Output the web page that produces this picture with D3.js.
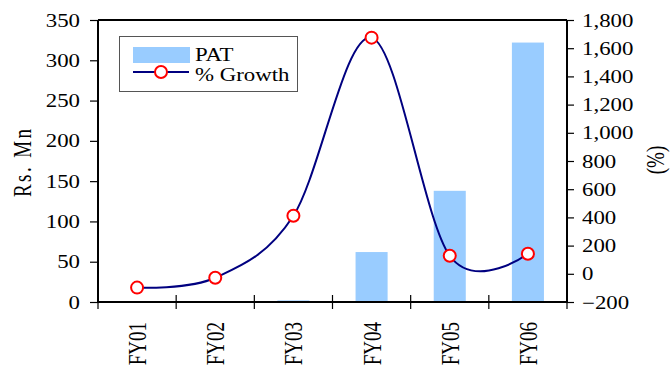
<!DOCTYPE html>
<html><head><meta charset="utf-8">
<script src="https://cdn.jsdelivr.net/npm/d3@7"></script>
<style>body{margin:0;background:#fff}svg{display:block}</style>
</head><body><svg id="c" width="671" height="366"></svg>
<script>
const categories = ["FY01","FY02","FY03","FY04","FY05","FY06"];
const patValues = [0, 0, 2, 62, 138, 322];
const growthValues = [-98, -28, 412, 1675, 128, 142];
const leftTicks = [0,50,100,150,200,250,300,350];
const rightTicks = [-200,0,200,400,600,800,1000,1200,1400,1600,1800];

const FONT = "'Liberation Serif','Times New Roman',serif";
const SX = 1.27; // horizontal stretch of the reference picture
const svg = d3.select("#c");
const L = 98, R = 567, T = 20, B = 302;
const x = d3.scaleBand().domain(categories).range([L, R]);
const yL = d3.scaleLinear().domain([0,350]).range([B, T]);
const yR = d3.scaleLinear().domain([-200,1800]).range([B, T]);
const fmt = d3.format(",");

function label(g, px, py, txt, opts={}) {
  const t = g.append("text")
    .attr("transform", `translate(${px},${py}) scale(${SX},1)` + (opts.rot ? ` rotate(${opts.rot})` : ""))
    .attr("font-family", FONT).attr("font-size", opts.size || 18)
    .attr("text-anchor", opts.anchor || "start").attr("fill", "#000")
    .text(txt);
  if (opts.dy) t.attr("dy", opts.dy);
  if (opts.len) t.attr("textLength", opts.len).attr("lengthAdjust", "spacing");
  return t;
}

// bars
const bw = x.bandwidth()*0.41;
svg.append("g").selectAll("rect").data(categories).join("rect")
  .attr("x", d => x(d) + x.bandwidth()/2 - bw/2)
  .attr("width", bw)
  .attr("y", (d,i) => yL(patValues[i]))
  .attr("height", (d,i) => B - yL(patValues[i]))
  .attr("fill", "#99CCFF");

// frame top
svg.append("line").attr("x1", L).attr("x2", R).attr("y1", T).attr("y2", T).attr("stroke","#000").attr("stroke-width",2);

// left axis
const gl = svg.append("g").attr("transform", `translate(${L},0)`)
  .call(d3.axisLeft(yL).tickValues(leftTicks).tickSize(8).tickFormat(""));
gl.selectAll(".tick").each(function(d){
  label(d3.select(this), -18, 0, String(d), {anchor:"end", dy:"0.34em"});
});
// right axis
const gr = svg.append("g").attr("transform", `translate(${R},0)`)
  .call(d3.axisRight(yR).tickValues(rightTicks).tickSize(7).tickFormat(""));
gr.selectAll(".tick").each(function(d){
  label(d3.select(this), 15, 0, fmt(d), {anchor:"start", dy:"0.34em"});
});
// bottom axis
const gb = svg.append("g").attr("transform", `translate(0,${B})`)
  .call(d3.axisBottom(x).tickValues([]).tickSize(0));
const bounds = x.domain().map(d => x(d)).concat([R]);
gb.selectAll(".bt").data(bounds).join("line").attr("class","bt")
  .attr("x1", d=>d).attr("x2", d=>d).attr("y1", -7).attr("y2", 7).attr("stroke","#000").attr("stroke-width",1.2);
categories.forEach(d => {
  label(gb, x(d)+x.bandwidth()/2+9, 20, d, {anchor:"end", rot:-90, size:19});
});

[gl, gr, gb].forEach(g => {
  g.select(".domain").attr("stroke","#000").attr("stroke-width",2);
  g.selectAll(".tick line").attr("stroke","#000").attr("stroke-width",1.2);
});
gl.selectAll(".tick line").attr("x2", 1).attr("x1", -8);
gr.selectAll(".tick line").attr("x1", -1).attr("x2", 7);
gl.select(".domain").attr("d", `M0,${T}V${B}`);
gr.select(".domain").attr("d", `M0,${T}V${B}`);
gb.select(".domain").attr("d", `M${L},0H${R}`);

// titles
label(svg, 31, 163, "Rs. Mn", {anchor:"middle", rot:-90, size:19, len:68});
label(svg, 664, 160, "(%)", {anchor:"middle", rot:-90, size:19});

// line
const pts = categories.map((d,i) => [x(d)+x.bandwidth()/2, yR(growthValues[i])]);
svg.append("path").attr("d", d3.line().curve(d3.curveCardinal.tension(0))(pts))
  .attr("fill","none").attr("stroke","#000080").attr("stroke-width",2);
svg.append("g").selectAll("circle").data(pts).join("circle")
  .attr("cx", d=>d[0]).attr("cy", d=>d[1]).attr("r", 6)
  .attr("fill","#fff").attr("stroke","#FF0000").attr("stroke-width",2);

// legend
const lg = svg.append("g");
lg.append("rect").attr("x",119.5).attr("y",36.5).attr("width",178).attr("height",55).attr("fill","#fff").attr("stroke","#555").attr("stroke-width",1);
lg.append("rect").attr("x",133).attr("y",47).attr("width",57).attr("height",16).attr("fill","#99CCFF");
label(lg, 195, 61, "PAT");
lg.append("line").attr("x1",133).attr("x2",189).attr("y1",72).attr("y2",72).attr("stroke","#000080").attr("stroke-width",2);
lg.append("circle").attr("cx",161).attr("cy",72).attr("r",6).attr("fill","#fff").attr("stroke","#FF0000").attr("stroke-width",2);
label(lg, 195, 81, "% Growth");
</script></body></html>
